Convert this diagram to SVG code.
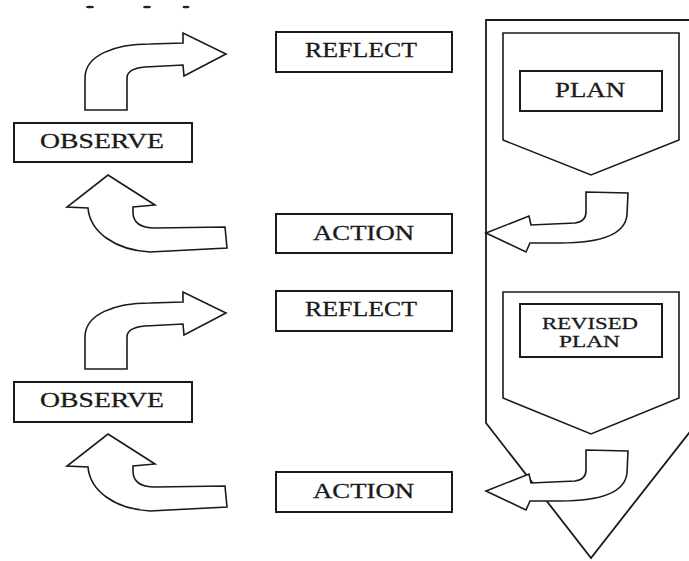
<svg xmlns="http://www.w3.org/2000/svg" width="689" height="561" viewBox="0 0 689 561">
<style>
.box{fill:#fff;stroke:#1a1a1a;stroke-width:2}
.pent{fill:#fff;stroke:#1a1a1a;stroke-width:1.6}
.frame{fill:#fff;stroke:#1a1a1a;stroke-width:1.8}
.arr{fill:#fff;stroke:#1a1a1a;stroke-width:1.6;stroke-linejoin:miter}
.t{font-family:"Liberation Serif","Times New Roman",serif;font-size:21px;fill:#1a1a1a;stroke:#1a1a1a;stroke-width:0.3}
.ts{font-size:17px}
.dot{fill:#222}
</style>
<rect width="689" height="561" fill="#fff"/>
<g id="marks">
<ellipse class="dot" cx="90" cy="7" rx="4" ry="1.3"/>
<ellipse class="dot" cx="147" cy="7" rx="4" ry="1.3"/>
<ellipse class="dot" cx="186" cy="7" rx="3.5" ry="1.3"/>
</g>
<g id="frame">
<path class="frame" d="M486,20 L696,20 L696,424 L591,558 L486,423 Z"/>
</g>
<g id="plan">
<path class="pent" d="M503,33 L679,33 L679,140 L591,175 L503,140 Z"/>
<rect class="box" x="520" y="71" width="142" height="40"/>
<text class="t" x="555" y="97" textLength="70" lengthAdjust="spacingAndGlyphs">PLAN</text>
</g>
<g id="revised-plan">
<path class="pent" d="M503,292 L679,292 L679,398 L591,434 L503,398 Z"/>
<rect class="box" x="520" y="304" width="142" height="53"/>
<text class="t ts" x="542" y="329" textLength="96" lengthAdjust="spacingAndGlyphs">REVISED</text>
<text class="t ts" x="559" y="347" textLength="61" lengthAdjust="spacingAndGlyphs">PLAN</text>
</g>
<g id="observe1">
<rect class="box" x="14" y="123" width="178" height="39"/>
<text class="t" x="40" y="148" textLength="124" lengthAdjust="spacingAndGlyphs">OBSERVE</text>
</g>
<g id="reflect1">
<rect class="box" x="276" y="32" width="176" height="40"/>
<text class="t" x="305" y="57" textLength="112" lengthAdjust="spacingAndGlyphs">REFLECT</text>
</g>
<g id="action1">
<rect class="box" x="276" y="214" width="176" height="39"/>
<text class="t" x="313" y="240" textLength="101" lengthAdjust="spacingAndGlyphs">ACTION</text>
</g>
<g id="observe2">
<rect class="box" x="14" y="382" width="178" height="40"/>
<text class="t" x="40" y="407" textLength="124" lengthAdjust="spacingAndGlyphs">OBSERVE</text>
</g>
<g id="reflect2">
<rect class="box" x="276" y="291" width="176" height="40"/>
<text class="t" x="305" y="316" textLength="112" lengthAdjust="spacingAndGlyphs">REFLECT</text>
</g>
<g id="action2">
<rect class="box" x="276" y="472" width="176" height="40"/>
<text class="t" x="313" y="498" textLength="101" lengthAdjust="spacingAndGlyphs">ACTION</text>
</g>
<defs>
<path id="upright" d="M85,110 L85,78 C85,55 115,44 150,44 L183,43 L183,33 L226,54 L184,76 L183,65 L145,67 C134,68 127,71 127,78 L127,110 Z"/>
<path id="upleft" d="M108,175 L155,205 L133,207 L133,212 C133,222 140,228 155,228 L225,227 L227,248 L150,252 C115,250 90,232 88,208 L67,207 Z"/>
<path id="downleft" d="M486,233 L529,216 L531,225 L575,223 C583,222 586,218 586,212 L586,192 L628,193 L627,215 C625,235 600,243 560,243 L530,243 L526,252 Z"/>
</defs>
<g id="connectors">
<use href="#upright" class="arr"/>
<use href="#upleft" class="arr"/>
<use href="#downleft" class="arr"/>
<use href="#upright" class="arr" transform="translate(0,259)"/>
<use href="#upleft" class="arr" transform="translate(0,259)"/>
<use href="#downleft" class="arr" transform="translate(0,258)"/>
</g>
</svg>
